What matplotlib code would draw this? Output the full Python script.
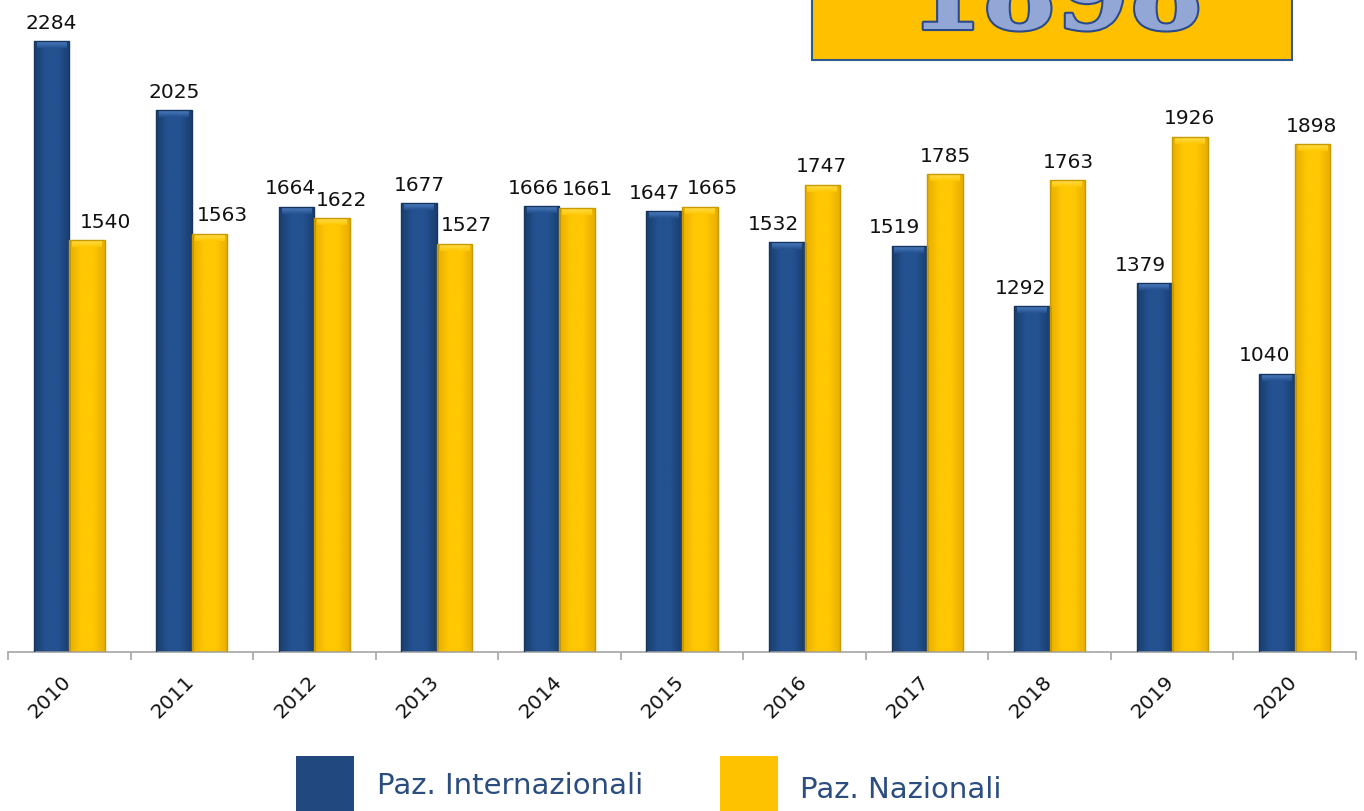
import matplotlib
matplotlib.use("Agg")
import matplotlib.pyplot as plt
import matplotlib.patheffects as pe
from matplotlib.patches import Rectangle
from matplotlib.colors import LinearSegmentedColormap
import numpy as np

years = ["2010", "2011", "2012", "2013", "2014", "2015", "2016", "2017", "2018", "2019", "2020"]
internazionali = [2284, 2025, 1664, 1677, 1666, 1647, 1532, 1519, 1292, 1379, 1040]
nazionali = [1540, 1563, 1622, 1527, 1661, 1665, 1747, 1785, 1763, 1926, 1898]
highlight_value = "1898"
legend_labels = ["Paz. Internazionali", "Paz. Nazionali"]

# label nudges (pixels) to mimic the original's placement
blue_dx = [0, 0, -6, 0, -8, -10, -13, -15, -11, -14, -12]
gold_dx = [18, 13, 9, 12, 10, 13, -1, 1, 1, -1, -1]

BLUE = "#21497f"
BLUE_EDGE = "#163660"
GOLD = "#ffc200"
GOLD_EDGE = "#c89a00"
TEXT_BLUE = "#2b4d80"

W, H = 1364, 812
fig = plt.figure(figsize=(W / 100, H / 100), dpi=100)
ax = fig.add_axes([8 / W, 1 - 653 / H, (1356 - 8) / W, 653 / H])

x = np.arange(len(years))
bw = 0.29
b1 = ax.bar(x - bw / 2, internazionali, bw, color=BLUE, edgecolor=BLUE_EDGE, linewidth=1, zorder=2)
b2 = ax.bar(x + bw / 2, nazionali, bw, color=GOLD, edgecolor=GOLD_EDGE, linewidth=1, zorder=2)

ax.set_xlim(-0.5, len(years) - 0.5)
ax.set_ylim(0, 2441)

# pixel height of bevel in data units
bevel = 7 * (2441 / 653)

def shade(bars, light, dark, top_light):
    cmap = LinearSegmentedColormap.from_list("g", [dark, light, light, dark])
    cmap_top = LinearSegmentedColormap.from_list("t", [light, top_light])
    grad = np.linspace(0, 1, 64).reshape(1, -1)
    vgrad = np.linspace(0, 1, 16).reshape(-1, 1)[::-1]
    for b in bars:
        x0, y0 = b.get_x(), b.get_y()
        w, h = b.get_width(), b.get_height()
        im = ax.imshow(grad, cmap=cmap, aspect="auto", extent=[x0, x0 + w, y0, y0 + h],
                       zorder=2.5, interpolation="bicubic")
        im.set_clip_path(b)
        im2 = ax.imshow(vgrad, cmap=cmap_top, aspect="auto",
                        extent=[x0 + w * 0.08, x0 + w * 0.92, y0 + h - bevel, y0 + h],
                        zorder=2.6, interpolation="bicubic", alpha=0.9)
        im2.set_clip_path(b)

shade(b1, "#245291", "#1a3e6e", "#5585c8")
shade(b2, "#ffc803", "#e8ad00", "#ffe25a")
for b in list(b1) + list(b2):
    b.set_zorder(3)
    b.set_facecolor("none")

for spine in ["left", "right", "top"]:
    ax.spines[spine].set_visible(False)
ax.spines["bottom"].set_color("#a6a6a6")
ax.spines["bottom"].set_linewidth(1.2)
ax.set_yticks([])

ax.set_xticks(np.arange(-0.5, len(years), 1.0), minor=True)
ax.set_xticks(x)
ax.set_xticklabels([])
ax.tick_params(axis="x", which="major", length=0)
ax.tick_params(axis="x", which="minor", length=6, color="#a6a6a6", width=1.2, direction="out")

for i, yr in enumerate(years):
    ax.annotate(yr, xy=(x[i], 0), xytext=(-19 * 0.72, -44 * 0.72), textcoords="offset points",
                ha="center", va="center", rotation=45, fontsize=14.5, color="#111111",
                family="DejaVu Sans", annotation_clip=False)

for i in range(len(years)):
    ax.annotate(str(internazionali[i]), xy=(x[i] - bw / 2, internazionali[i]),
                xytext=(blue_dx[i] * 0.72, 6.8), textcoords="offset points",
                ha="center", va="bottom", fontsize=14.5, color="#111111", annotation_clip=False)
    ax.annotate(str(nazionali[i]), xy=(x[i] + bw / 2, nazionali[i]),
                xytext=(gold_dx[i] * 0.72, 6.8), textcoords="offset points",
                ha="center", va="bottom", fontsize=14.5, color="#111111", annotation_clip=False)

# Highlight box top-right
fig.patches.append(Rectangle((812 / W, 1 - 61 / H), (1292 - 812) / W, 80 / H,
                             transform=fig.transFigure, facecolor="#ffc000",
                             edgecolor="#2f5a8e", linewidth=1.5, zorder=5, clip_on=False))
fig.text(1056 / W, 1 - 30 / H, highlight_value, ha="center", va="baseline",
         fontsize=76, fontweight="bold", family="DejaVu Serif", color="#93a7d6", zorder=6,
         path_effects=[pe.withStroke(linewidth=3, foreground="#2a4a8a")])

# Legend
fig.patches.append(Rectangle((296 / W, 0), 58 / W, (812 - 757) / H, transform=fig.transFigure,
                             facecolor=BLUE, edgecolor="none", zorder=5))
fig.patches.append(Rectangle((720 / W, 0), 58 / W, (812 - 757) / H, transform=fig.transFigure,
                             facecolor=GOLD, edgecolor="none", zorder=5))
fig.text(377 / W, 1 - 786 / H, legend_labels[0], ha="left", va="center", fontsize=21,
         color=TEXT_BLUE, family="DejaVu Sans")
fig.text(800 / W, 1 - 790 / H, legend_labels[1], ha="left", va="center", fontsize=21,
         color=TEXT_BLUE, family="DejaVu Sans")

fig.savefig("out.png", dpi=100)
